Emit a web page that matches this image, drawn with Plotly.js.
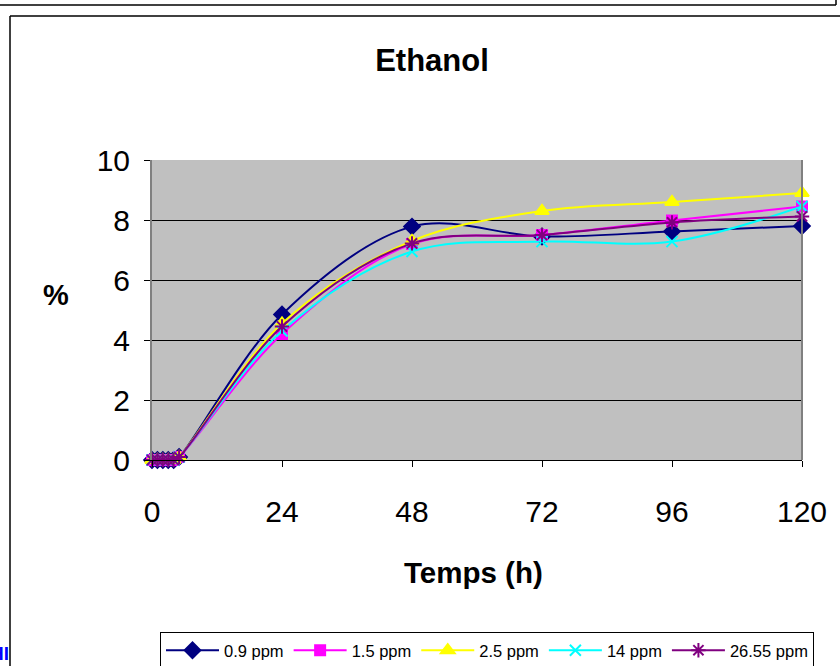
<!DOCTYPE html>
<html>
<head>
<meta charset="utf-8">
<script src="https://cdn.plot.ly/plotly-3.0.1.min.js"></script>
<style>
html,body{margin:0;padding:0;background:#fff;}
#chart{width:840px;height:666px;}
</style>
</head>
<body>
<div id="chart"></div>
<script>
const hours = [0, 1, 2, 3, 4, 5, 24, 48, 72, 96, 120];
const ppm09 = [0, 0, 0, 0, 0, 0.1, 4.85, 7.78, 7.45, 7.62, 7.8];
const ppm15 = [0, 0, 0, 0, 0, 0.1, 4.2, 7.2, 7.5, 7.98, 8.45];
const ppm25 = [0, 0, 0, 0, 0, 0.1, 4.55, 7.3, 8.3, 8.6, 8.9];
const ppm14 = [0, 0, 0, 0, 0, 0.1, 4.3, 6.95, 7.28, 7.28, 8.45];
const ppm2655 = [0, 0, 0, 0, 0, 0.1, 4.45, 7.22, 7.5, 7.92, 8.12];
const seriesNames = ['0.9 ppm', '1.5 ppm', '2.5 ppm', '14 ppm', '26.55 ppm'];
const xTicks = [0, 24, 48, 72, 96, 120];
const yTicks = [0, 2, 4, 6, 8, 10];

const FONT = 'Arial, "Liberation Sans", sans-serif';
const styles = [
  {color: '#000080', symbol: 'diamond', size: 12},
  {color: '#FF00FF', symbol: 'square', size: 10},
  {color: '#FFFF00', symbol: 'triangle-up', size: 12},
  {color: '#00FFFF', symbol: 'x-thin-open', size: 11},
  {color: '#800080', symbol: 'asterisk-open', size: 12}
];
const data = [ppm09, ppm15, ppm25, ppm14, ppm2655].map((ys, i) => ({
  type: 'scatter', mode: 'lines+markers', name: seriesNames[i],
  x: hours, y: ys, cliponaxis: false,
  line: {color: styles[i].color, width: 2, shape: 'spline', smoothing: 1},
  marker: {color: styles[i].color, symbol: styles[i].symbol, size: styles[i].size,
           line: {color: styles[i].color, width: 2}}
}));

// pixel helpers for paper coords (plot area: x 152..802, y 160..460)
const px = v => (v - 152) / 650;
const py = v => (460 - v) / 300;

const layout = {
  width: 840, height: 666,
  margin: {l: 152, r: 38, t: 160, b: 206, pad: 0, autoexpand: false},
  paper_bgcolor: '#FFFFFF', plot_bgcolor: '#C0C0C0',
  font: {family: FONT, color: '#000'},
  showlegend: true,
  title: {text: '<b>Ethanol</b>', font: {size: 31, family: FONT, color: '#000'},
          xref: 'container', yref: 'container', x: 432/840, xanchor: 'center', y: 1 - 60/666, yanchor: 'middle'},
  xaxis: {range: [0, 120], tickvals: xTicks, ticktext: xTicks.map(String), tickfont: {size: 30, family: FONT},
          showgrid: false, zeroline: false, showline: true, linecolor: '#000', linewidth: 1,
          ticks: 'outside', ticklen: 6, tickcolor: '#000', ticklabelstandoff: 19, fixedrange: true},
  yaxis: {range: [0, 10], tickvals: yTicks, ticktext: yTicks.map(String), tickfont: {size: 30, family: FONT},
          showgrid: true, gridcolor: '#000', gridwidth: 1, zeroline: false, showline: true, linecolor: '#808080', linewidth: 2,
          ticks: 'outside', ticklen: 6, tickcolor: '#000', ticklabelstandoff: 8, fixedrange: true},
  legend: {orientation: 'h', x: px(160), xanchor: 'left', y: py(632), yanchor: 'top',
           bgcolor: '#FFFFFF', bordercolor: '#000', borderwidth: 1,
           font: {size: 16.5, family: FONT}, itemwidth: 53, tracegroupgap: 0},
  annotations: [
    {text: '<b>Temps (h)</b>', xref: 'paper', yref: 'paper', x: px(473), y: py(572), xanchor: 'center', yanchor: 'middle',
     showarrow: false, font: {size: 29.5, family: FONT}},
    {text: '<b>%</b>', xref: 'paper', yref: 'paper', x: px(56), y: py(295), xanchor: 'center', yanchor: 'middle',
     showarrow: false, font: {size: 29, family: FONT}},
    {text: '<b>HI</b>', xref: 'paper', yref: 'paper', x: px(11), y: py(653), xanchor: 'right', yanchor: 'middle',
     showarrow: false, font: {size: 19, family: FONT, color: '#0000FF'}}
  ],
  shapes: [
    // plot area border right
    {type: 'line', xref: 'paper', yref: 'paper', x0: 1, x1: 1, y0: 0, y1: 1, line: {color: '#808080', width: 2}},
    // outer frame (top piece)
    {type: 'line', xref: 'paper', yref: 'paper', x0: px(0), x1: px(836), y0: py(5), y1: py(5), line: {color: '#000', width: 1.5}},
    {type: 'line', xref: 'paper', yref: 'paper', x0: px(836), x1: px(836), y0: py(5), y1: py(-2), line: {color: '#000', width: 1.5}},
    // inner frame
    {type: 'line', xref: 'paper', yref: 'paper', x0: px(10), x1: px(845), y0: py(16), y1: py(16), line: {color: '#000', width: 1.5}},
    {type: 'line', xref: 'paper', yref: 'paper', x0: px(10), x1: px(10), y0: py(16), y1: py(670), line: {color: '#000', width: 1.5}}
  ]
};
Plotly.newPlot('chart', data, layout, {displayModeBar: false, staticPlot: true});
</script>
</body>
</html>
